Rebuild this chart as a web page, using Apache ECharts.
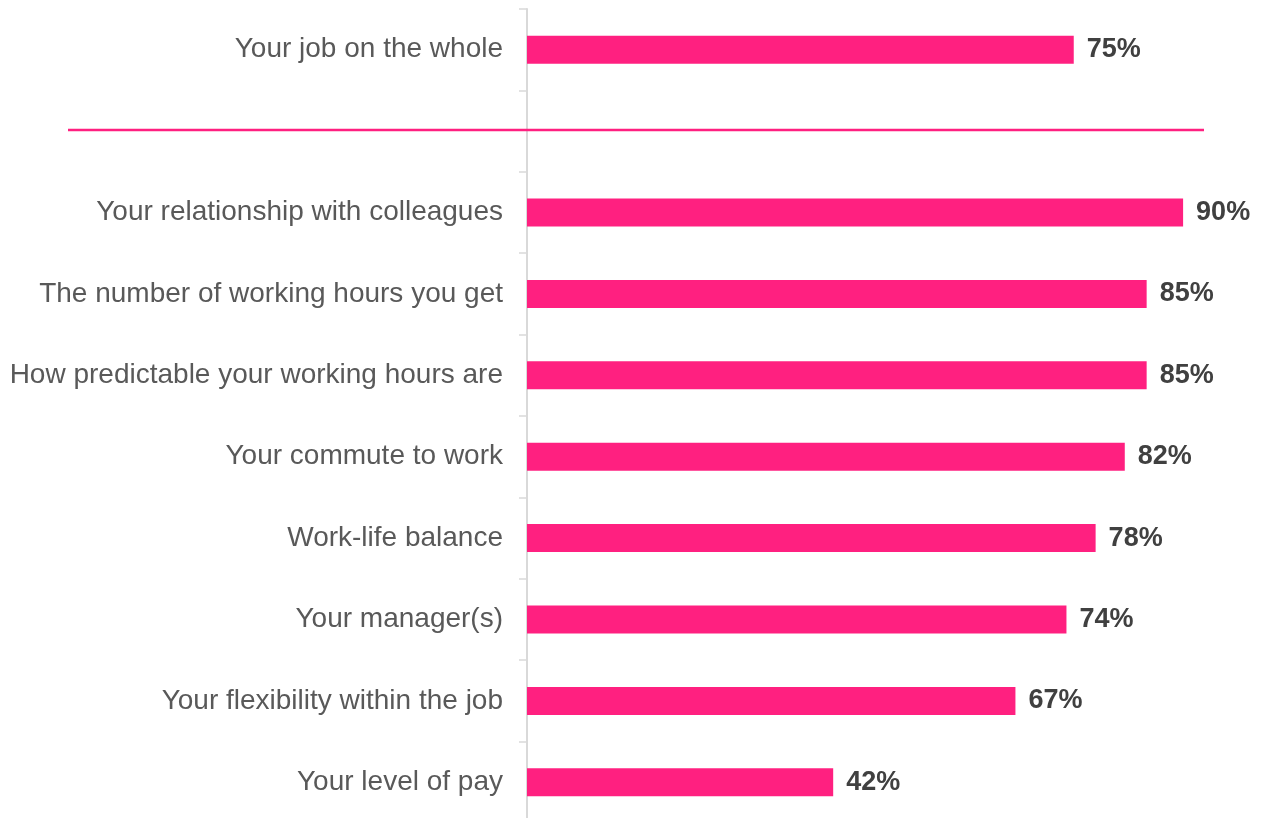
<!DOCTYPE html>
<html>
<head>
<meta charset="utf-8">
<script src="https://cdn.jsdelivr.net/npm/echarts@6/dist/echarts.min.js"></script>
<style>
  html, body { margin: 0; padding: 0; background: #ffffff; }
  #chart { width: 1266px; height: 818px; }
</style>
</head>
<body>
<div id="chart"></div>
<script>
// Satisfaction items, top to bottom; the blank slot holds the divider line
const categories = [
  'Your job on the whole',
  ' ',
  'Your relationship with colleagues',
  'The number of working hours you get',
  'How predictable your working hours are',
  'Your commute to work',
  'Work-life balance',
  'Your manager(s)',
  'Your flexibility within the job',
  'Your level of pay'
];
const satisfiedPct = [75, null, 90, 85, 85, 82, 78, 74, 67, 42];
const dividerSlot = ' ';

const PINK = '#FF2080';

const chart = echarts.init(document.getElementById('chart'), null, { renderer: 'canvas' });

chart.setOption({
  animation: false,
  backgroundColor: '#ffffff',
  grid: {
    left: 527, right: 10, top: 9, height: 814,
    containLabel: false,
    outerBoundsMode: 'none'
  },
  xAxis: {
    type: 'value',
    min: 0,
    max: 100,
    show: false
  },
  yAxis: {
    type: 'category',
    data: categories,
    inverse: true,
    axisLine: { show: true, lineStyle: { color: '#D9D9D9', width: 2 } },
    axisTick: { show: true, length: 8, lineStyle: { color: '#D9D9D9', width: 1.5 } },
    axisLabel: {
      margin: 24,
      color: '#595959',
      fontFamily: 'Liberation Sans, Arial, sans-serif',
      fontSize: 28
    },
    splitLine: { show: false }
  },
  series: [{
    type: 'bar',
    data: satisfiedPct,
    barWidth: 28,
    itemStyle: { color: PINK },
    label: {
      show: true,
      position: 'right',
      distance: 13,
      formatter: p => (p.value == null ? '' : p.value + '%'),
      color: '#404040',
      fontFamily: 'Liberation Sans, Arial, sans-serif',
      fontWeight: 'bold',
      fontSize: 27
    }
  }]
});

// Divider between the overall score and the individual aspects
const dividerY = chart.convertToPixel({ yAxisIndex: 0 }, dividerSlot) - 1;
chart.setOption({
  graphic: [{
    type: 'line',
    shape: { x1: 68, y1: dividerY, x2: 1204, y2: dividerY },
    style: { stroke: PINK, lineWidth: 2.5 },
    z: 10
  }]
});
</script>
</body>
</html>
